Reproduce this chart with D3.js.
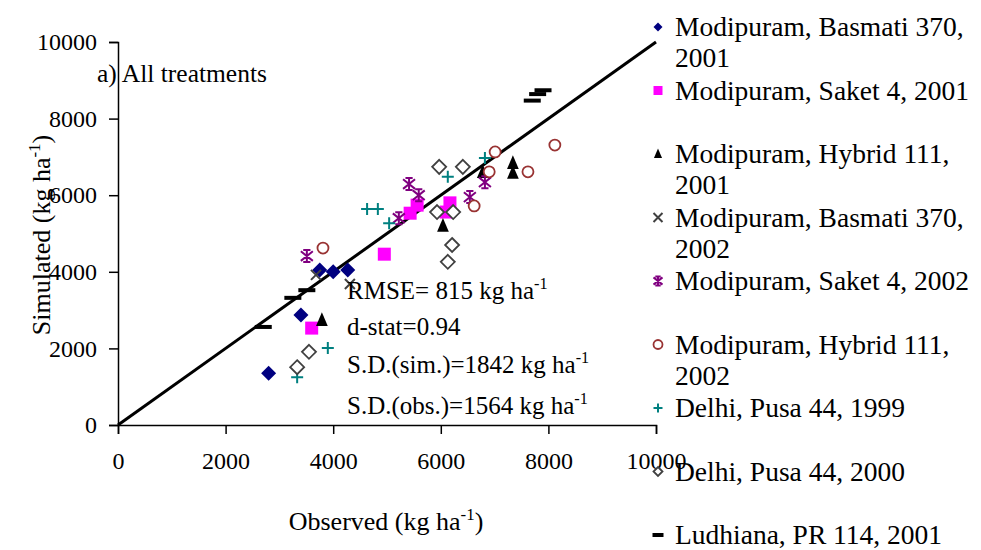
<!DOCTYPE html>
<html>
<head>
<meta charset="utf-8">
<script src="https://cdn.jsdelivr.net/npm/d3@7"></script>
<style>
  body { margin: 0; background: #fff; }
  svg { display: block; font-family: "Liberation Serif", "Times New Roman", serif; }
</style>
</head>
<body>
<div id="chart"></div>
<script>
// observed / simulated grain yield (kg/ha)
var basmati2001 = [[2800, 1350], [3400, 2870], [3750, 4050], [4000, 4000], [4270, 4050]];
var saket2001 = [[3600, 2530], [4950, 4460], [5430, 5530], [5560, 5740], [6170, 5800], [6100, 5560]];
var hybrid2001 = [[3790, 2740], [6040, 5200], [6780, 6600], [7340, 6840], [7340, 6580]];
var basmati2002 = [[3680, 3920], [4310, 3680]];
var saket2002 = [[3510, 4410], [5410, 6290], [5590, 6000], [5220, 5400], [6540, 5950], [6820, 6340]];
var hybrid2002 = [[3810, 4620], [6620, 5720], [7010, 7130], [6900, 6610], [7620, 6610], [8120, 7310]];
var delhi1999 = [[3330, 1250], [3900, 2010], [4630, 5640], [4830, 5640], [5040, 5270], [6130, 6480], [6820, 6970]];
var delhi2000 = [[3330, 1510], [3550, 1910], [5970, 6740], [6410, 6740], [5930, 5560], [6230, 5560], [6210, 4700], [6130, 4260]];
var ludhiana2001 = [[2700, 2560], [3250, 3320], [3510, 3520], [7700, 8470], [7800, 8640], [7900, 8740]];

var seriesNames = [
    ["Modipuram, Basmati 370,", "2001"],
    ["Modipuram, Saket 4, 2001"],
    ["Modipuram, Hybrid 111,", "2001"],
    ["Modipuram, Basmati 370,", "2002"],
    ["Modipuram, Saket 4, 2002"],
    ["Modipuram, Hybrid 111,", "2002"],
    ["Delhi, Pusa 44, 1999"],
    ["Delhi, Pusa 44, 2000"],
    ["Ludhiana, PR 114, 2001"]
];
var seriesData = [basmati2001, saket2001, hybrid2001, basmati2002, saket2002, hybrid2002, delhi1999, delhi2000, ludhiana2001];
var seriesShape = ["diamond", "square", "triangle", "times", "asterisk", "circle", "plus", "opendiamond", "dash"];
var seriesColor = ["#000080", "#ff00ff", "#000000", "#404040", "#800080", "#993333", "#008080", "#404040", "#000000"];

var xTicks = [0, 2000, 4000, 6000, 8000, 10000];
var yTicks = [0, 2000, 4000, 6000, 8000, 10000];
var statLines = [
    ["RMSE= 815 kg ha", "-1"],
    ["d-stat=0.94"],
    ["S.D.(sim.)=1842 kg ha", "-1"],
    ["S.D.(obs.)=1564 kg ha", "-1"]
];

var width = 981, height = 550;
var plot = { left: 118, right: 656, top: 42, bottom: 425 };

var svg = d3.select("#chart").append("svg")
    .attr("width", width)
    .attr("height", height);

var x = d3.scaleLinear().domain([0, 10000]).range([plot.left, plot.right]);
var y = d3.scaleLinear().domain([0, 10000]).range([plot.bottom, plot.top]);

// axes
var xAxis = svg.append("g")
    .attr("transform", "translate(0," + plot.bottom + ")")
    .call(d3.axisBottom(x).tickValues(xTicks).tickSize(9).tickPadding(13).tickFormat(d3.format("d")));
var yAxis = svg.append("g")
    .attr("transform", "translate(" + plot.left + ",0)")
    .call(d3.axisLeft(y).tickValues(yTicks).tickSize(9).tickPadding(12).tickFormat(d3.format("d")));

[xAxis, yAxis].forEach(function (ax) {
    ax.attr("font-family", null);
    ax.select(".domain").attr("stroke", "#000").attr("stroke-width", 1.5);
    ax.selectAll(".tick line").attr("stroke", "#000").attr("stroke-width", 1.5);
    ax.selectAll(".tick text")
        .attr("fill", "#000")
        .style("font-family", '"Liberation Serif", "Times New Roman", serif')
        .style("font-size", "24px");
});
xAxis.selectAll(".tick text").attr("dy", "0.9em");

// 1:1 line
svg.append("line")
    .attr("x1", x(0)).attr("y1", y(0))
    .attr("x2", x(10000)).attr("y2", y(10000))
    .attr("stroke", "#000")
    .attr("stroke-width", 3);

// marker shapes
function markerPath(shape, s) {
    var h = s / 2;
    switch (shape) {
        case "diamond":
        case "opendiamond":
            return "M0," + (-h) + "L" + h + ",0L0," + h + "L" + (-h) + ",0Z";
        case "square":
            return "M" + (-h) + "," + (-h) + "H" + h + "V" + h + "H" + (-h) + "Z";
        case "triangle":
            return "M0," + (-h * 1.2) + "L" + (h * 0.9) + "," + (h * 0.9) + "L" + (-h * 0.9) + "," + (h * 0.9) + "Z";
        case "times":
            return "M" + (-h) + "," + (-h) + "L" + h + "," + h + "M" + h + "," + (-h) + "L" + (-h) + "," + h;
        case "plus":
            return "M" + (-h) + ",0H" + h + "M0," + (-h) + "V" + h;
        case "asterisk":
            return "M" + (-h) + "," + (-h * 0.8) + "L" + h + "," + (h * 0.8) +
                "M" + h + "," + (-h * 0.8) + "L" + (-h) + "," + (h * 0.8) +
                "M0," + (-h) + "V" + h + "M" + (-h * 0.6) + "," + (-h) + "H" + (h * 0.6) +
                "M" + (-h * 0.6) + "," + h + "H" + (h * 0.6);
        case "circle":
            return d3.symbol().type(d3.symbolCircle).size(Math.PI * h * h)();
        case "dash":
            return "M" + (-h) + ",-2H" + h + "V2H" + (-h) + "Z";
    }
}

function styleMarker(sel, shape, color) {
    if (shape === "diamond" || shape === "square" || shape === "triangle" || shape === "dash") {
        sel.attr("fill", color).attr("stroke", "none");
    } else if (shape === "opendiamond" || shape === "circle") {
        sel.attr("fill", "#fff").attr("stroke", color).attr("stroke-width", 1.8);
    } else {
        sel.attr("fill", "none").attr("stroke", color).attr("stroke-width", 2);
    }
}

var markerSize = { diamond: 15, square: 13, triangle: 13, times: 10, asterisk: 12, circle: 11, plus: 12, opendiamond: 14, dash: 17 };

seriesData.forEach(function (pts, i) {
    var shape = seriesShape[i];
    svg.append("g").selectAll("path")
        .data(pts)
        .enter().append("path")
        .attr("transform", function (d) { return "translate(" + x(d[0]) + "," + y(d[1]) + ")"; })
        .attr("d", markerPath(shape, markerSize[shape]))
        .call(styleMarker, shape, seriesColor[i]);
});

// text with superscript pieces
function richText(g, parts, fs) {
    parts.forEach(function (p, k) {
        if (k % 2 === 0) {
            g.append("tspan").attr("dy", k === 0 ? 0 : fs * 0.4).style("font-size", fs + "px").text(p);
        } else {
            g.append("tspan").attr("dy", -fs * 0.4).style("font-size", (fs * 0.65) + "px").text(p);
        }
    });
}

// annotation
svg.append("text")
    .attr("x", 97).attr("y", 82)
    .style("font-size", "25.5px")
    .text("a) All treatments");

// statistics
var statY = [299, 335, 373, 414];
statLines.forEach(function (line, i) {
    var t = svg.append("text").attr("x", 347).attr("y", statY[i]);
    richText(t, line, 25);
});

// axis titles
var xt = svg.append("text")
    .attr("x", 386).attr("y", 530)
    .attr("text-anchor", "middle");
richText(xt, ["Observed (kg ha", "-1", ")"], 26);

var yt = svg.append("text")
    .attr("transform", "translate(50,235) rotate(-90)")
    .attr("text-anchor", "middle");
richText(yt, ["Simulated (kg ha", "-1", ")"], 26);

// legend
var legendTop = 27, legendStep = 63.5, lineGap = 31;
var legend = svg.append("g");
seriesNames.forEach(function (lines, i) {
    var cy = legendTop + i * legendStep;
    var shape = seriesShape[i];
    legend.append("path")
        .attr("transform", "translate(658," + cy + ")")
        .attr("d", markerPath(shape, shape === "dash" ? 11 : 9))
        .call(styleMarker, shape, seriesColor[i]);
    lines.forEach(function (ln, j) {
        legend.append("text")
            .attr("x", 675)
            .attr("y", cy + 9 + j * lineGap)
            .style("font-size", "27.5px")
            .text(ln);
    });
});
</script>
</body>
</html>
